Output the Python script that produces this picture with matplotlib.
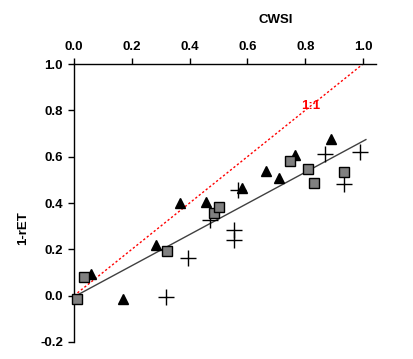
import numpy as np
import matplotlib
matplotlib.use("Agg")
import matplotlib.pyplot as plt

plt.rcParams['font.family'] = ['Liberation Sans', 'DejaVu Sans']
plt.rcParams['font.weight'] = 'bold'

# data
sq_x = [0.011, 0.036, 0.323, 0.484, 0.502, 0.748, 0.809, 0.832, 0.935]
sq_y = [-0.014, 0.079, 0.192, 0.358, 0.381, 0.582, 0.548, 0.485, 0.535]

tri_x = [0.060, 0.170, 0.284, 0.367, 0.457, 0.580, 0.664, 0.709, 0.765, 0.888]
tri_y = [0.093, -0.016, 0.218, 0.398, 0.405, 0.463, 0.538, 0.506, 0.607, 0.676]

plus_x = [0.318, 0.393, 0.471, 0.554, 0.554, 0.566, 0.867, 0.933, 0.990]
plus_y = [-0.005, 0.161, 0.326, 0.283, 0.240, 0.454, 0.610, 0.480, 0.621]

# fitted line
fit_slope = 0.672
fit_intercept = -0.005
fit_range = [0.0, 1.01]

x_ticks = [0.0, 0.2, 0.4, 0.6, 0.8, 1.0]
y_ticks = [-0.2, 0.0, 0.2, 0.4, 0.6, 0.8, 1.0]

fig = plt.figure(figsize=(4.14, 3.59), dpi=100)
ax = fig.add_axes([74/414, 1-342/359, (376-74)/414, (342-64)/359])

# 1:1 line
ax.plot([0, 1], [0, 1], color='red', lw=1.0, linestyle=(0, (1.6, 1.6)), zorder=2)
ax.text(0.82, 0.82, '1:1', color='red', fontsize=9.5, fontweight='bold',
        ha='center', va='center')

# regression line
fx = np.array(fit_range)
ax.plot(fx, fit_slope * fx + fit_intercept, color='#404040', lw=1.0, zorder=2)

ax.plot(plus_x, plus_y, '+', color='black', ms=12, mew=1.0, clip_on=False, zorder=3)
ax.plot(tri_x, tri_y, '^', color='black', ms=6.5, clip_on=False, zorder=3)
ax.plot(sq_x, sq_y, 's', mfc='#808080', mec='black', mew=1.0, ms=6.5,
        clip_on=False, zorder=4)

ax.set_xlim(0, 1.045)
ax.set_ylim(-0.2, 1.0)
ax.xaxis.tick_top()
ax.set_xticks(x_ticks)
ax.set_yticks(y_ticks)
ax.set_xticklabels([f"{v:.1f}" for v in x_ticks])
ax.set_yticklabels([f"{v:.1f}" for v in y_ticks])
ax.tick_params(direction='out', length=4, width=1, labelsize=9.5, pad=4)
for s in ['right', 'bottom']:
    ax.spines[s].set_visible(False)
for s in ['left', 'top']:
    ax.spines[s].set_linewidth(1)

fig.text(23/414, 1-228/359, '1-rET', fontsize=9.5, fontweight='bold',
         rotation=90, ha='center', va='center')
fig.text(276/414, 1-20/359, 'CWSI', fontsize=9.5, fontweight='bold',
         ha='center', va='center')

fig.savefig('out.png', dpi=100)
